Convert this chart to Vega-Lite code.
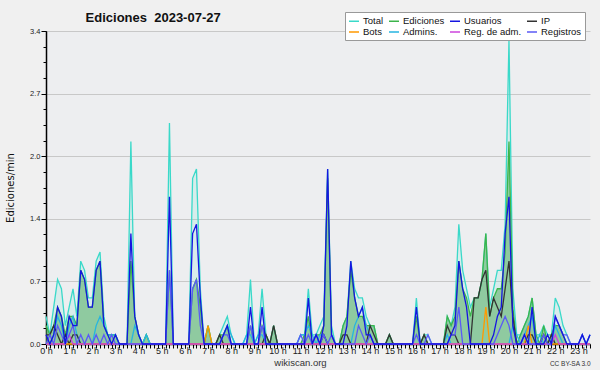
{
"$schema":"https://vega.github.io/schema/vega-lite/v6.json",
"width":544,"height":313,
"autosize":{"type":"none"},
"padding":{"left":46,"top":31,"right":10,"bottom":26},
"background":"#f0f0f0",
"title":{"text":"Ediciones\u00a0 2023-07-27","anchor":"start","dx":80,"dy":21,"font":"Liberation Sans","fontSize":13,"fontWeight":"bold","color":"#111","offset":8},
"config":{"view":{"fill":"#edeef0","stroke":null},"font":"Liberation Sans"},
"data":{"values":[
{"m":0,"T":0.3,"E":0.2,"U":0.1,"I":0.1,"A":0,"R":0,"B":0,"G":0},
{"m":10,"T":0.1,"E":0.1,"U":0,"I":0.1,"A":0,"R":0.1,"B":0,"G":0},
{"m":20,"T":0.4,"E":0.2,"U":0.1,"I":0.2,"A":0.1,"R":0,"B":0,"G":0},
{"m":30,"T":0.7,"E":0.4,"U":0.4,"I":0.1,"A":0.3,"R":0.2,"B":0,"G":0},
{"m":40,"T":0.6,"E":0.3,"U":0.3,"I":0,"A":0.2,"R":0.1,"B":0,"G":0},
{"m":50,"T":0.2,"E":0.1,"U":0,"I":0.1,"A":0,"R":0,"B":0,"G":0},
{"m":60,"T":0.4,"E":0.3,"U":0.3,"I":0,"A":0.2,"R":0.1,"B":0,"G":0.1},
{"m":70,"T":0.6,"E":0.3,"U":0.2,"I":0.1,"A":0.3,"R":0.2,"B":0,"G":0},
{"m":80,"T":0.3,"E":0.2,"U":0.2,"I":0.1,"A":0.1,"R":0,"B":0,"G":0},
{"m":90,"T":0.9,"E":0.8,"U":0.8,"I":0,"A":0,"R":0.1,"B":0,"G":0},
{"m":100,"T":0.8,"E":0.7,"U":0.7,"I":0,"A":0,"R":0,"B":0,"G":0},
{"m":110,"T":0.5,"E":0.4,"U":0.4,"I":0,"A":0,"R":0.1,"B":0,"G":0},
{"m":120,"T":0.5,"E":0.4,"U":0.4,"I":0,"A":0,"R":0,"B":0,"G":0},
{"m":130,"T":0.9,"E":0.8,"U":0.8,"I":0,"A":0.2,"R":0.1,"B":0,"G":0},
{"m":140,"T":1.0,"E":0.9,"U":0.9,"I":0,"A":0.3,"R":0,"B":0,"G":0},
{"m":150,"T":0.3,"E":0.2,"U":0.2,"I":0,"A":0.2,"R":0.1,"B":0,"G":0},
{"m":160,"T":0.1,"E":0.1,"U":0.1,"I":0,"A":0.1,"R":0,"B":0,"G":0},
{"m":170,"T":0.1,"E":0.1,"U":0,"I":0,"A":0.1,"R":0.1,"B":0,"G":0},
{"m":180,"T":0.1,"E":0.1,"U":0.1,"I":0,"A":0.1,"R":0,"B":0,"G":0},
{"m":190,"T":0,"E":0,"U":0,"I":0,"A":0,"R":0,"B":0,"G":0},
{"m":200,"T":0,"E":0,"U":0,"I":0,"A":0,"R":0,"B":0,"G":0},
{"m":210,"T":0,"E":0,"U":0,"I":0,"A":0,"R":0,"B":0,"G":0},
{"m":220,"T":2.2,"E":0.9,"U":1.2,"I":0,"A":0,"R":0,"B":0,"G":0},
{"m":230,"T":0.3,"E":0.3,"U":0.3,"I":0,"A":0.2,"R":0,"B":0,"G":0},
{"m":240,"T":0.1,"E":0.1,"U":0.1,"I":0,"A":0.1,"R":0,"B":0,"G":0},
{"m":250,"T":0,"E":0,"U":0,"I":0,"A":0,"R":0,"B":0,"G":0},
{"m":260,"T":0.1,"E":0.1,"U":0,"I":0,"A":0.1,"R":0,"B":0,"G":0},
{"m":270,"T":0,"E":0,"U":0,"I":0,"A":0,"R":0,"B":0,"G":0},
{"m":280,"T":0,"E":0,"U":0,"I":0,"A":0,"R":0,"B":0,"G":0},
{"m":290,"T":0,"E":0,"U":0,"I":0,"A":0,"R":0,"B":0,"G":0},
{"m":300,"T":0,"E":0,"U":0,"I":0,"A":0,"R":0,"B":0,"G":0},
{"m":310,"T":0,"E":0,"U":0,"I":0,"A":0,"R":0,"B":0,"G":0},
{"m":320,"T":2.4,"E":0.8,"U":1.6,"I":0,"A":0,"R":0.8,"B":0,"G":0},
{"m":330,"T":0,"E":0,"U":0,"I":0,"A":0,"R":0,"B":0,"G":0},
{"m":340,"T":0,"E":0,"U":0,"I":0,"A":0,"R":0,"B":0,"G":0},
{"m":350,"T":0,"E":0,"U":0,"I":0,"A":0,"R":0,"B":0,"G":0},
{"m":360,"T":0,"E":0,"U":0,"I":0,"A":0,"R":0,"B":0,"G":0},
{"m":370,"T":0,"E":0,"U":0,"I":0,"A":0,"R":0,"B":0,"G":0},
{"m":380,"T":1.8,"E":0.6,"U":1.2,"I":0,"A":0,"R":0.6,"B":0,"G":0},
{"m":390,"T":1.9,"E":0.7,"U":1.3,"I":0,"A":0,"R":0.7,"B":0,"G":0},
{"m":400,"T":0.6,"E":0.4,"U":0.5,"I":0,"A":0,"R":0.2,"B":0,"G":0},
{"m":410,"T":0,"E":0,"U":0,"I":0,"A":0,"R":0,"B":0,"G":0},
{"m":420,"T":0.2,"E":0.2,"U":0,"I":0,"A":0,"R":0,"B":0.2,"G":0},
{"m":430,"T":0,"E":0,"U":0,"I":0,"A":0,"R":0,"B":0,"G":0},
{"m":440,"T":0,"E":0,"U":0,"I":0,"A":0,"R":0,"B":0,"G":0},
{"m":450,"T":0.1,"E":0.1,"U":0,"I":0.1,"A":0,"R":0,"B":0,"G":0},
{"m":460,"T":0.2,"E":0.1,"U":0.1,"I":0,"A":0.1,"R":0.1,"B":0,"G":0},
{"m":470,"T":0.3,"E":0.2,"U":0.2,"I":0,"A":0.2,"R":0.1,"B":0,"G":0},
{"m":480,"T":0.1,"E":0,"U":0,"I":0,"A":0.1,"R":0,"B":0,"G":0},
{"m":490,"T":0,"E":0,"U":0,"I":0,"A":0,"R":0,"B":0,"G":0},
{"m":500,"T":0,"E":0,"U":0,"I":0,"A":0,"R":0,"B":0,"G":0},
{"m":510,"T":0,"E":0,"U":0,"I":0,"A":0,"R":0,"B":0,"G":0},
{"m":520,"T":0.1,"E":0,"U":0,"I":0,"A":0.1,"R":0,"B":0,"G":0},
{"m":530,"T":0.7,"E":0.2,"U":0.4,"I":0,"A":0.1,"R":0.2,"B":0,"G":0},
{"m":540,"T":0,"E":0,"U":0,"I":0,"A":0,"R":0,"B":0,"G":0},
{"m":550,"T":0.1,"E":0,"U":0,"I":0,"A":0.1,"R":0,"B":0,"G":0},
{"m":560,"T":0.6,"E":0.2,"U":0.4,"I":0,"A":0.1,"R":0.2,"B":0,"G":0},
{"m":570,"T":0.1,"E":0.1,"U":0,"I":0.1,"A":0,"R":0,"B":0,"G":0},
{"m":580,"T":0,"E":0,"U":0,"I":0,"A":0,"R":0,"B":0,"G":0},
{"m":590,"T":0.2,"E":0.2,"U":0,"I":0.2,"A":0,"R":0,"B":0,"G":0},
{"m":600,"T":0,"E":0,"U":0,"I":0,"A":0,"R":0,"B":0,"G":0},
{"m":610,"T":0,"E":0,"U":0,"I":0,"A":0,"R":0,"B":0,"G":0},
{"m":620,"T":0,"E":0,"U":0,"I":0,"A":0,"R":0,"B":0,"G":0},
{"m":630,"T":0,"E":0,"U":0,"I":0,"A":0,"R":0,"B":0,"G":0},
{"m":640,"T":0,"E":0,"U":0,"I":0,"A":0,"R":0,"B":0,"G":0},
{"m":650,"T":0,"E":0,"U":0,"I":0,"A":0,"R":0,"B":0,"G":0},
{"m":660,"T":0.1,"E":0,"U":0,"I":0,"A":0.1,"R":0.1,"B":0,"G":0},
{"m":670,"T":0.1,"E":0.1,"U":0,"I":0,"A":0.1,"R":0,"B":0,"G":0},
{"m":680,"T":0.6,"E":0.3,"U":0.5,"I":0,"A":0.2,"R":0.1,"B":0,"G":0},
{"m":690,"T":0.1,"E":0,"U":0,"I":0,"A":0.1,"R":0,"B":0,"G":0},
{"m":700,"T":0.1,"E":0.1,"U":0.1,"I":0,"A":0,"R":0.1,"B":0,"G":0},
{"m":710,"T":0.2,"E":0.1,"U":0,"I":0,"A":0.1,"R":0,"B":0,"G":0},
{"m":720,"T":0.3,"E":0.2,"U":0.2,"I":0.1,"A":0.1,"R":0.1,"B":0,"G":0},
{"m":730,"T":1.9,"E":1.8,"U":1.9,"I":0,"A":0,"R":0,"B":0,"G":0},
{"m":740,"T":0.2,"E":0.1,"U":0.1,"I":0,"A":0,"R":0.1,"B":0,"G":0},
{"m":750,"T":0,"E":0,"U":0,"I":0,"A":0,"R":0,"B":0,"G":0},
{"m":760,"T":0,"E":0,"U":0,"I":0,"A":0,"R":0,"B":0,"G":0},
{"m":770,"T":0.2,"E":0.2,"U":0,"I":0.1,"A":0,"R":0,"B":0,"G":0},
{"m":780,"T":0.3,"E":0.3,"U":0.2,"I":0.1,"A":0,"R":0,"B":0,"G":0},
{"m":790,"T":0.9,"E":0.8,"U":0.9,"I":0,"A":0,"R":0,"B":0,"G":0},
{"m":800,"T":0.6,"E":0.5,"U":0.5,"I":0,"A":0.2,"R":0,"B":0,"G":0},
{"m":810,"T":0.5,"E":0.3,"U":0.3,"I":0,"A":0.3,"R":0.2,"B":0,"G":0},
{"m":820,"T":0.5,"E":0.3,"U":0.4,"I":0,"A":0.4,"R":0.1,"B":0,"G":0},
{"m":830,"T":0.3,"E":0.2,"U":0.1,"I":0,"A":0.2,"R":0,"B":0,"G":0},
{"m":840,"T":0.2,"E":0.2,"U":0.1,"I":0.2,"A":0.1,"R":0.1,"B":0,"G":0},
{"m":850,"T":0.2,"E":0.2,"U":0,"I":0.1,"A":0,"R":0,"B":0,"G":0},
{"m":860,"T":0,"E":0,"U":0,"I":0,"A":0,"R":0,"B":0,"G":0},
{"m":870,"T":0,"E":0,"U":0,"I":0,"A":0,"R":0,"B":0,"G":0},
{"m":880,"T":0,"E":0,"U":0,"I":0,"A":0,"R":0,"B":0,"G":0},
{"m":890,"T":0.1,"E":0.1,"U":0,"I":0.1,"A":0,"R":0,"B":0,"G":0},
{"m":900,"T":0,"E":0,"U":0,"I":0,"A":0,"R":0,"B":0,"G":0},
{"m":910,"T":0,"E":0,"U":0,"I":0,"A":0,"R":0,"B":0,"G":0},
{"m":920,"T":0,"E":0,"U":0,"I":0,"A":0,"R":0,"B":0,"G":0},
{"m":930,"T":0,"E":0,"U":0,"I":0,"A":0,"R":0,"B":0,"G":0},
{"m":940,"T":0,"E":0,"U":0,"I":0,"A":0,"R":0,"B":0,"G":0},
{"m":950,"T":0,"E":0,"U":0,"I":0,"A":0,"R":0,"B":0,"G":0},
{"m":960,"T":0.5,"E":0.3,"U":0.4,"I":0,"A":0,"R":0.1,"B":0,"G":0},
{"m":970,"T":0,"E":0,"U":0,"I":0,"A":0,"R":0,"B":0,"G":0},
{"m":980,"T":0.1,"E":0.1,"U":0,"I":0.1,"A":0,"R":0,"B":0,"G":0},
{"m":990,"T":0.1,"E":0,"U":0,"I":0,"A":0,"R":0.1,"B":0,"G":0},
{"m":1000,"T":0,"E":0,"U":0,"I":0,"A":0,"R":0,"B":0,"G":0},
{"m":1010,"T":0,"E":0,"U":0,"I":0,"A":0,"R":0,"B":0,"G":0},
{"m":1020,"T":0,"E":0,"U":0,"I":0,"A":0,"R":0,"B":0,"G":0},
{"m":1030,"T":0,"E":0,"U":0,"I":0,"A":0,"R":0,"B":0,"G":0},
{"m":1040,"T":0.3,"E":0.3,"U":0,"I":0.2,"A":0.1,"R":0,"B":0,"G":0},
{"m":1050,"T":0.2,"E":0.2,"U":0.1,"I":0.1,"A":0,"R":0.1,"B":0,"G":0},
{"m":1060,"T":0.4,"E":0.3,"U":0.2,"I":0.1,"A":0,"R":0.1,"B":0,"G":0},
{"m":1070,"T":1.3,"E":0.9,"U":0.9,"I":0,"A":0,"R":0.4,"B":0,"G":0},
{"m":1080,"T":0.8,"E":0.6,"U":0.6,"I":0,"A":0,"R":0,"B":0,"G":0},
{"m":1090,"T":0.6,"E":0.5,"U":0.4,"I":0,"A":0,"R":0,"B":0,"G":0},
{"m":1100,"T":0.4,"E":0.3,"U":0,"I":0,"A":0,"R":0,"B":0,"G":0},
{"m":1110,"T":0.5,"E":0.5,"U":0,"I":0.5,"A":0,"R":0,"B":0,"G":0},
{"m":1120,"T":0.5,"E":0.5,"U":0,"I":0.5,"A":0,"R":0,"B":0,"G":0},
{"m":1130,"T":0.7,"E":0.7,"U":0,"I":0.7,"A":0,"R":0,"B":0,"G":0},
{"m":1140,"T":1.2,"E":1.2,"U":0,"I":0.8,"A":0,"R":0,"B":0.4,"G":0},
{"m":1150,"T":0.4,"E":0.3,"U":0,"I":0.3,"A":0,"R":0,"B":0,"G":0},
{"m":1160,"T":0.6,"E":0.5,"U":0.1,"I":0.5,"A":0,"R":0,"B":0,"G":0},
{"m":1170,"T":0.8,"E":0.6,"U":0.3,"I":0.4,"A":0,"R":0.1,"B":0,"G":0},
{"m":1180,"T":0.8,"E":0.6,"U":0.4,"I":0.3,"A":0,"R":0.2,"B":0,"G":0},
{"m":1190,"T":1.3,"E":1.0,"U":1.2,"I":0.6,"A":0,"R":0.3,"B":0,"G":0},
{"m":1200,"T":3.3,"E":2.2,"U":1.6,"I":0.9,"A":0,"R":0.2,"B":0,"G":0},
{"m":1210,"T":0.6,"E":0.4,"U":0.2,"I":0.3,"A":0.2,"R":0,"B":0,"G":0},
{"m":1220,"T":0.1,"E":0,"U":0,"I":0,"A":0.1,"R":0,"B":0,"G":0},
{"m":1230,"T":0.1,"E":0.1,"U":0,"I":0,"A":0,"R":0,"B":0,"G":0},
{"m":1240,"T":0.2,"E":0.2,"U":0.1,"I":0,"A":0.1,"R":0.1,"B":0,"G":0},
{"m":1250,"T":0.3,"E":0.3,"U":0,"I":0.1,"A":0.2,"R":0,"B":0.2,"G":0},
{"m":1260,"T":0.5,"E":0.5,"U":0.4,"I":0.1,"A":0.3,"R":0,"B":0,"G":0},
{"m":1270,"T":0.1,"E":0.1,"U":0,"I":0,"A":0,"R":0,"B":0,"G":0},
{"m":1280,"T":0.1,"E":0,"U":0,"I":0,"A":0.1,"R":0,"B":0,"G":0},
{"m":1290,"T":0.2,"E":0.2,"U":0,"I":0.1,"A":0,"R":0.1,"B":0,"G":0},
{"m":1300,"T":0.1,"E":0,"U":0.1,"I":0,"A":0,"R":0,"B":0,"G":0},
{"m":1310,"T":0.1,"E":0.1,"U":0,"I":0.1,"A":0,"R":0,"B":0,"G":0},
{"m":1320,"T":0.5,"E":0.2,"U":0.3,"I":0,"A":0.2,"R":0.3,"B":0,"G":0.1},
{"m":1330,"T":0.4,"E":0.2,"U":0.2,"I":0,"A":0.1,"R":0.2,"B":0,"G":0},
{"m":1340,"T":0.2,"E":0.1,"U":0.1,"I":0,"A":0,"R":0.1,"B":0,"G":0},
{"m":1350,"T":0.1,"E":0,"U":0,"I":0,"A":0,"R":0.1,"B":0,"G":0},
{"m":1360,"T":0,"E":0,"U":0,"I":0,"A":0,"R":0,"B":0,"G":0},
{"m":1370,"T":0,"E":0,"U":0,"I":0,"A":0,"R":0,"B":0,"G":0},
{"m":1380,"T":0,"E":0,"U":0,"I":0,"A":0,"R":0,"B":0,"G":0},
{"m":1390,"T":0.1,"E":0,"U":0.1,"I":0,"A":0,"R":0.1,"B":0,"G":0},
{"m":1400,"T":0,"E":0,"U":0,"I":0,"A":0,"R":0,"B":0,"G":0},
{"m":1410,"T":0.1,"E":0,"U":0.1,"I":0,"A":0,"R":0.1,"B":0,"G":0}
]},
"layer":[
{"mark":{"type":"area","color":"#40e0d0","opacity":0.12},
 "encoding":{
  "x":{"field":"m","type":"quantitative","scale":{"domain":[0,1410],"nice":false,"zero":false},
   "axis":{"orient":"bottom","tickCount":141,"labels":false,"domain":false,"grid":false,"ticks":true,"tickSize":4,"tickColor":"#000","tickWidth":1,
    "title":"CC BY-SA 3.0","titleFont":"Liberation Sans","titleFontSize":6.5,"titleFontWeight":"normal","titleAlign":"right","titleAnchor":"end","titleBaseline":"middle","titleX":544,"titleY":19,"titleColor":"#333"}},
  "y":{"field":"T","type":"quantitative","scale":{"domain":[0,3.4],"nice":false},
   "axis":{"orient":"left","values":[0,0.17,0.34,0.51,0.68,0.85,1.02,1.19,1.36,1.53,1.7,1.87,2.04,2.21,2.38,2.55,2.72,2.89,3.06,3.23,3.4],"labels":false,"domain":false,"grid":false,"tickSize":3,"tickColor":"#000","title":null}}}},
{"mark":{"type":"area","color":"#45a855","opacity":0.5},
 "encoding":{
  "x":{"field":"m","type":"quantitative","scale":{"domain":[0,1410],"nice":false,"zero":false},
   "axis":{"orient":"bottom","values":[0,60,120,180,240,300,360,420,480,540,600,660,720,780,840,900,960,1020,1080,1140,1200,1260,1320,1380],
    "labelExpr":"(datum.value/60) + ' h'","labelFont":"Liberation Sans","labelFontSize":9,"labelColor":"#222","labelPadding":-2,"labelFlush":false,"labelOverlap":false,
    "tickSize":4,"tickColor":"#000","domainColor":"#000","domainWidth":1.5,"grid":false,
    "title":"wikiscan.org","titleFont":"Liberation Sans","titleFontSize":9.5,"titleFontWeight":"normal","titleColor":"#333","titleBaseline":"middle","titleX":254,"titleY":18,"titleAnchor":"middle"}},
  "y":{"field":"E","type":"quantitative","scale":{"domain":[0,3.4],"nice":false},
   "axis":{"orient":"left","values":[0,0.68,1.36,2.04,2.72,3.4],"format":".1f","labelFont":"Liberation Sans","labelFontSize":7.5,"labelColor":"#222","labelPadding":1,
    "grid":true,"gridColor":"#c8c8c8","gridWidth":1,"domainColor":"#000","domainWidth":1.5,"tickSize":5,"tickColor":"#000",
    "title":"Ediciones/min","titleFont":"DejaVu Sans","titleFontSize":10,"titleFontWeight":"normal","titleColor":"#111","titlePadding":14}}}},
{"transform":[{"fold":["T","E","A","I","B","G","R","U"],"as":["s","v"]}],
 "mark":{"type":"line","strokeWidth":1.3},
 "encoding":{
  "x":{"field":"m","type":"quantitative","scale":{"domain":[0,1410],"nice":false,"zero":false},"axis":null},
  "y":{"field":"v","type":"quantitative","scale":{"domain":[0,3.4],"nice":false},"axis":null},
  "color":{"field":"s","type":"nominal",
   "scale":{"domain":["T","E","U","I","B","A","G","R"],"range":["#3ad9c9","#3cb44b","#1515e0","#333333","#ff9900","#26b5e0","#cc44dd","#5a5af5"]},
   "legend":{"orient":"none","legendX":299,"legendY":-19,"columns":4,"direction":"horizontal","symbolType":"stroke","symbolSize":100,"symbolStrokeWidth":1.5,
    "labelFont":"Liberation Sans","labelFontSize":9.5,"labelColor":"#111","labelOffset":3,
    "labelExpr":"{'T':'Total','E':'Ediciones','U':'Usuarios','I':'IP','B':'Bots','A':'Admins.','G':'Reg. de adm.','R':'Registros'}[datum.label]",
    "title":null,"fillColor":"#ffffff","strokeColor":"#999999","padding":3,"rowPadding":0,"columnPadding":2}}}}
],
"resolve":{"axis":{"x":"independent","y":"independent"}}
}
